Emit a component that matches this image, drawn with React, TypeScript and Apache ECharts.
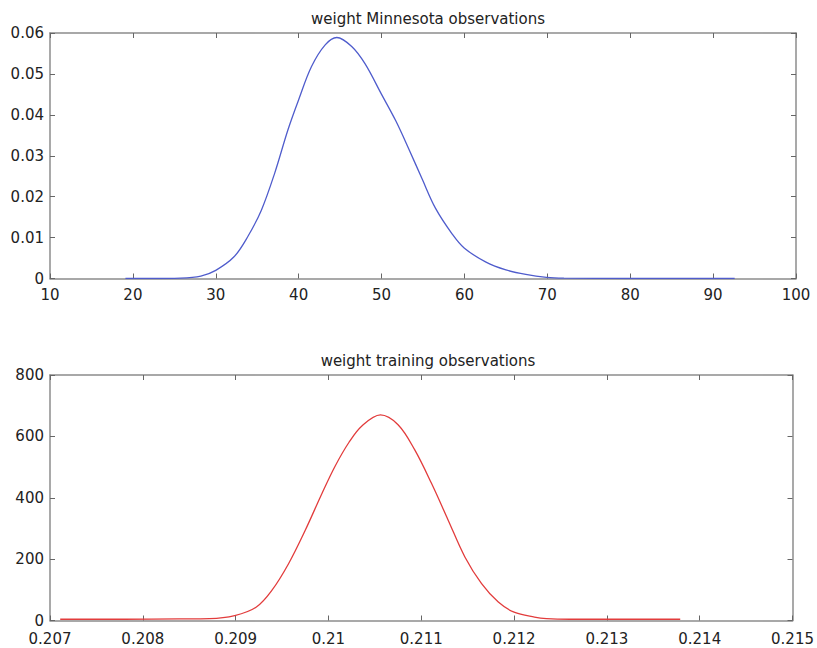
import React, { useEffect, useRef } from "react";
import * as echarts from "echarts";

const minnesotaTitle = "weight Minnesota observations";
const trainingTitle = "weight training observations";

const minnesotaX = [19.1, 22, 25.75, 28.2, 30, 32.2, 33.85, 35.5, 37.1, 38.7, 40, 41.55, 43.2, 44.6, 46.4, 48.0, 50, 51.7, 53.3, 54.9, 56.5, 58.55, 60, 62.6, 65.0, 67.4, 69.9, 72, 80, 92.6];
const minnesotaY = [0, 0, 0.0001, 0.0006, 0.002, 0.0053, 0.0102, 0.0167, 0.0257, 0.0363, 0.0437, 0.0518, 0.0571, 0.0589, 0.0567, 0.0525, 0.045, 0.0386, 0.0316, 0.0243, 0.0172, 0.0108, 0.0074, 0.004, 0.0021, 0.001, 0.0003, 0.0001, 0, 0];

const trainingX = [0.20711, 0.2078, 0.20839, 0.20872, 0.20899, 0.20922, 0.20939, 0.20957, 0.20975, 0.20993, 0.21007, 0.21022, 0.21036, 0.21056, 0.21075, 0.21093, 0.21111, 0.21129, 0.21147, 0.21165, 0.21183, 0.212, 0.21222, 0.21235, 0.2126, 0.213, 0.21379];
const trainingY = [4, 4, 5, 6, 16, 43, 98, 185, 294, 414, 502, 580, 634, 670, 638, 556, 447, 327, 207, 120, 60, 27, 11, 6, 4, 4, 4];

const topXTicks = { min: 10, max: 100, interval: 10 };
const topYTicks = { min: 0, max: 0.06, interval: 0.01 };
const botXTicks = { min: 0.207, max: 0.215, interval: 0.001 };
const botYTicks = { min: 0, max: 800, interval: 200 };

const FONT = "DejaVu Sans";
const AXIS_COLOR = "#8c8c8c";
const TICK_COLOR = "#666";
const TEXT_COLOR = "#222";

function fmt(d: number) {
  return (v: number) => String(+v.toFixed(d));
}

function makeAxis(grid: number, pos: string, t: any, labels: boolean, dec: number, margin: number) {
  return {
    type: "value",
    gridIndex: grid,
    position: pos,
    min: t.min,
    max: t.max,
    interval: t.interval,
    axisLine: { show: true, onZero: false, lineStyle: { color: AXIS_COLOR, width: 1.5 } },
    axisTick: { show: true, inside: true, length: 5, lineStyle: { color: TICK_COLOR, width: 1 } },
    splitLine: { show: false },
    axisLabel: {
      show: labels,
      color: TEXT_COLOR,
      fontFamily: FONT,
      fontSize: 15,
      lineHeight: 12,
      margin,
      formatter: fmt(dec),
      showMinLabel: true,
      showMaxLabel: true,
    },
  };
}

export default function App() {
  const ref = useRef<HTMLDivElement>(null);
  useEffect(() => {
    if (!ref.current) return;
    const chart = echarts.init(ref.current, null, { renderer: "svg" });
    const option = {
      animation: false,
      backgroundColor: "#fff",
      title: [
        { text: minnesotaTitle, left: 423, top: 6, textAlign: "center", textStyle: { fontFamily: FONT, fontSize: 15, fontWeight: "normal", color: TEXT_COLOR } },
        { text: trainingTitle, left: 423, top: 348, textAlign: "center", textStyle: { fontFamily: FONT, fontSize: 15, fontWeight: "normal", color: TEXT_COLOR } },
      ],
      grid: [
        { left: 50, top: 33, width: 746, height: 245.5 },
        { left: 50, top: 375, width: 746, height: 245.5 },
      ],
      xAxis: [
        makeAxis(0, "bottom", topXTicks, true, 0, 10),
        makeAxis(0, "top", topXTicks, false, 0, 10),
        makeAxis(1, "bottom", botXTicks, true, 3, 12),
        makeAxis(1, "top", botXTicks, false, 3, 12),
      ],
      yAxis: [
        makeAxis(0, "left", topYTicks, true, 2, 6),
        makeAxis(0, "right", topYTicks, false, 2, 6),
        makeAxis(1, "left", botYTicks, true, 0, 6),
        makeAxis(1, "right", botYTicks, false, 0, 6),
      ],
      series: [
        {
          type: "line",
          xAxisIndex: 0,
          yAxisIndex: 0,
          data: minnesotaX.map((x, i) => [x, minnesotaY[i]]),
          showSymbol: false,
          smooth: 0.35,
          lineStyle: { color: "#4f5ccc", width: 1.3 },
        },
        {
          type: "line",
          xAxisIndex: 2,
          yAxisIndex: 2,
          data: trainingX.map((x, i) => [x, trainingY[i]]),
          showSymbol: false,
          smooth: 0.35,
          lineStyle: { color: "#e23c3c", width: 1.3 },
        },
      ],
    };
    chart.setOption(option as any);
    return () => chart.dispose();
  }, []);
  return <div ref={ref} style={{ position: "absolute", left: 0, top: 0, width: 817, height: 648 }} />;
}
